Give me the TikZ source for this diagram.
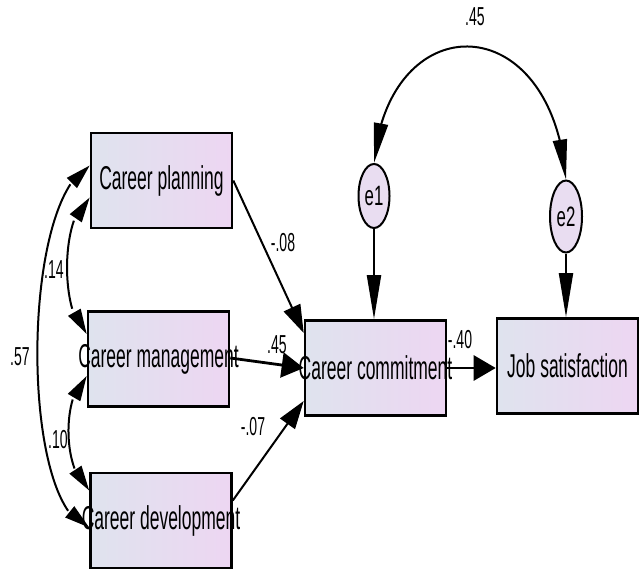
\documentclass[tikz,border=0pt]{standalone}
\usepackage{fontspec}
\setmainfont{Liberation Sans}
\usetikzlibrary{arrows.meta,calc,bending,shapes.geometric}
\definecolor{bl}{HTML}{DFE3EE}
\definecolor{pk}{HTML}{EDD6F2}
\definecolor{ef}{HTML}{E9DDF1}
\newcommand\boxtxt[1]{\makebox[0pt]{\scalebox{0.53}[1]{\fontsize{33}{33}\selectfont #1}}}
\newcommand\numtxt[1]{\scalebox{0.54}[1]{\fontsize{26}{26}\selectfont #1}}
\newcommand\errtxt[1]{\scalebox{0.6}[1]{\fontsize{28}{28}\selectfont #1}}
\begin{document}
\begin{tikzpicture}[x=1pt,y=-1pt,
 var/.style={draw,line width=2.6pt,rectangle,minimum width=141pt,minimum height=95pt,inner sep=0pt,left color=bl,right color=pk},
 err/.style={draw,line width=2pt,ellipse,minimum width=31pt,minimum height=64pt,inner sep=0pt,fill=ef},
 lab/.style={inner sep=0pt},
 ln/.style={line width=2pt},
 hl/.style={line width=2.8pt},
 vtip/.style={-{Triangle[length=44pt,width=14pt]}},
 htip/.style={-{Triangle[length=22pt,width=25pt]}},
 dtip/.style={-{Triangle[length=28pt,width=18pt]}},
 ctip/.style={{Triangle[length=25pt,width=14pt]}-{Triangle[length=25pt,width=14pt]}},
 ttip/.style={{Triangle[length=40pt,width=14pt]}-{Triangle[length=40pt,width=14pt]}},
]
\fill[white] (0,0) rectangle (639,569);
\useasboundingbox (0,0) rectangle (639,569);

\node[var] (cp) at (161.5,180.5) {\boxtxt{Career planning}};
\node[var] (cm) at (158.5,359) {\boxtxt{Career management}};
\node[var] (cd) at (161,520.5) {\boxtxt{Career development}};
\node[var] (cc) at (375.5,368) {\boxtxt{Career commitment}};
\node[var] (js) at (567.5,366) {\boxtxt{Job satisfaction}};

\node[err] (e1) at (374,196) {\errtxt{e1}};
\node[err,minimum width=32pt,minimum height=72pt] (e2) at (566,216.5) {\errtxt{e2}};

\draw[ln,vtip] (e1.south) -- (e1.south |- cc.north);
\draw[ln,vtip] (e2.south) -- (e2.south |- js.north);
\draw[hl,htip] (cc.east) -- (cc.east -| js.west);
\draw[hl,htip] ([yshift=1pt]cm.east) -- (cc.west);
\draw[ln,dtip] (cp.east) -- ([yshift=35pt]cc.west);
\draw[ln,dtip] ([yshift=20pt]cd.east) -- ([yshift=-33pt]cc.west);

\draw[ln,ctip] ([yshift=15pt]cp.west) .. controls (20,200) and (20,510) .. ([yshift=-7pt]cd.west);
\draw[ln,ctip] ([yshift=-17pt]cp.west) .. controls (60,215) and (60,315) .. ([yshift=25pt]cm.west);
\draw[ln,ctip] ([yshift=-17pt]cm.west) .. controls (62,395) and (62,470) .. ([yshift=30pt]cd.west);
\draw[ln,ttip] (e1.north) .. controls (388,5) and (552,5) .. (e2.north);

\node[lab] (l1) at (475,17) {\numtxt{.45}};
\node[lab] (l2) at (283,243) {\numtxt{-.08}};
\node[lab] (l3) at (277,345) {\numtxt{.45}};
\node[lab] (l4) at (253,427) {\numtxt{-.07}};
\node[lab] (l5) at (460,340) {\numtxt{-.40}};
\node[lab] (l6) at (20,357) {\numtxt{.57}};
\node[lab] (l7) at (54,270) {\numtxt{.14}};
\node[lab] (l8) at (58,440) {\numtxt{.10}};
\end{tikzpicture}
\end{document}
